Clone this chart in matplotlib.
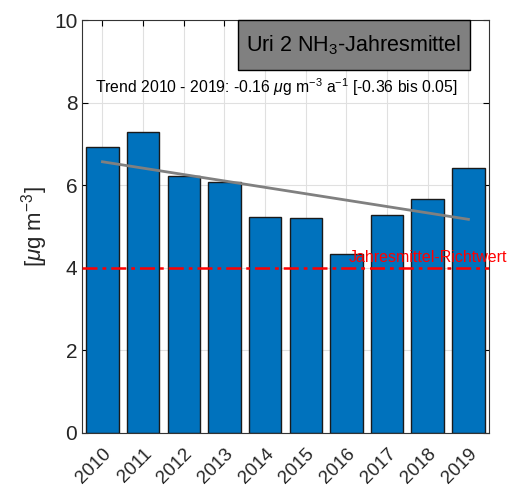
import matplotlib
matplotlib.use("Agg")
import matplotlib.pyplot as plt
from matplotlib.patches import Rectangle

plt.rcParams['font.family'] = ['Liberation Sans', 'DejaVu Sans']
plt.rcParams['mathtext.fontset'] = 'custom'
plt.rcParams['mathtext.rm'] = 'Liberation Sans'
plt.rcParams['mathtext.it'] = 'Liberation Sans:italic'

years = ['2010', '2011', '2012', '2013', '2014', '2015', '2016', '2017', '2018', '2019']
annual_mean = [6.93, 7.29, 6.22, 6.08, 5.24, 5.21, 4.33, 5.29, 5.66, 6.42]
trend_start = 6.57
trend_slope = -0.155
guideline = 4.0

fig = plt.figure(figsize=(5.07, 4.92), dpi=100)
ax = fig.add_axes([0.162, 0.12, 0.802, 0.839])

x = list(range(len(years)))
ax.bar(x, annual_mean, width=0.8, color='#0072BD', edgecolor='#1a1a1a', linewidth=1.0, zorder=2)
trend = [trend_start + trend_slope * i for i in x]
ax.plot(x, trend, color='#808080', linewidth=2, zorder=3)
ax.axhline(guideline, color='red', linestyle='-.', linewidth=1.8, zorder=4, dashes=(6, 2, 1.5, 2))
ax.text(6.05, guideline + 0.08, 'Jahresmittel-Richtwert', color='red', fontsize=11.5,
        va='bottom', ha='left', zorder=5)

ax.set_xlim(-0.5, 9.5)
ax.set_ylim(0, 10)
ax.set_xticks(x)
ax.set_xticklabels(years, rotation=45, ha='right', rotation_mode='anchor', fontsize=13.5, color='#262626')
ax.set_yticks([0, 2, 4, 6, 8, 10])
ax.tick_params(axis='y', labelsize=15, labelcolor='#262626', direction='in', length=4, right=True)
ax.tick_params(axis='x', direction='in', length=4, top=True, pad=9)
ax.set_ylabel(r'[$\mu$g m$^{-3}$]', fontsize=16, color='#262626', labelpad=3)
ax.grid(True, color='#e0e0e0', linewidth=0.8, zorder=0)
ax.set_axisbelow(True)
for s in ax.spines.values():
    s.set_color('#333333')

ax.add_patch(Rectangle((0.383, 0.879), 0.57, 0.121, transform=ax.transAxes,
                       facecolor='#808080', edgecolor='black', linewidth=1.0, zorder=6, clip_on=False))
ax.text(0.668, 0.94, r'Uri 2 NH$_3$-Jahresmittel', transform=ax.transAxes,
        ha='center', va='center', fontsize=15.5, zorder=7)
ax.text(0.478, 0.838, r'Trend 2010 - 2019: -0.16 $\mu$g m$^{-3}$ a$^{-1}$ [-0.36 bis 0.05]',
        transform=ax.transAxes, ha='center', va='center', fontsize=11.3, zorder=7)

fig.savefig('out.png', dpi=100)
